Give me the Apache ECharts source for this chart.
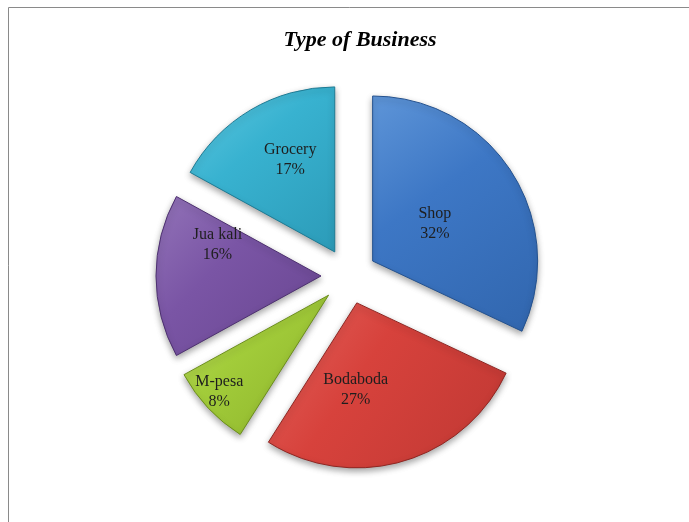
<!DOCTYPE html>
<html>
<head>
<meta charset="utf-8">
<script src="https://cdn.jsdelivr.net/npm/echarts@6/dist/echarts.min.js"></script>
<style>
  html, body { margin: 0; padding: 0; background: #fff; }
  #chart { width: 689px; height: 522px; }
</style>
</head>
<body>
<div id="chart"></div>
<script>
// Business types and their share (%)
const categories = ['Shop', 'Bodaboda', 'M-pesa', 'Jua kali', 'Grocery'];
const shares = [32, 27, 8, 16, 17];

// Slice colour ramps: [light, base, dark, edge]
const palette = [
  ['#5e95d8', '#3d77c5', '#3166ae', '#24528f'],
  ['#e2625c', '#d7423c', '#bf3833', '#8f2622'],
  ['#bcdc62', '#a2cc3a', '#8cb22a', '#6c8e1c'],
  ['#9273b8', '#7a55a5', '#684590', '#4d3070'],
  ['#5fc8e0', '#38b2d0', '#2c9bb8', '#1e7b94']
];

// Nudges for the inside labels (px)
const labelNudge = [[-10, 9], [-25, 5], [-47, 38], [-18, -31], [-1, -19]];

function fill(c) {
  return {
    type: 'linear', x: 0, y: 0, x2: 1, y2: 1,
    colorStops: [
      { offset: 0, color: c[0] },
      { offset: 0.4, color: c[1] },
      { offset: 1, color: c[2] }
    ]
  };
}

const chart = echarts.init(document.getElementById('chart'), null, { renderer: 'canvas' });

chart.setOption({
  backgroundColor: '#ffffff',
  animation: false,
  title: {
    text: 'Type of Business',
    left: 355,
    textAlign: 'center',
    top: 24,
    textStyle: {
      fontFamily: 'Liberation Serif',
      fontStyle: 'italic',
      fontWeight: 'bold',
      fontSize: 22,
      color: '#000'
    }
  },
  graphic: [{
    type: 'rect',
    shape: { x: 8.5, y: 7.5, width: 800, height: 700 },
    style: { fill: 'none', stroke: '#8a8a8a', lineWidth: 1 },
    silent: true
  }],
  series: [{
    type: 'pie',
    center: [349, 276],
    radius: [0, 165],
    startAngle: 90,
    clockwise: true,
    selectedMode: 'multiple',
    selectedOffset: 28,
    avoidLabelOverlap: false,
    emphasis: { disabled: true },
    label: {
      show: true,
      position: 'inner',
      formatter: '{b}\n{c}%',
      fontFamily: 'Liberation Serif',
      fontSize: 16,
      lineHeight: 20,
      color: '#1e1e1e'
    },
    labelLine: { show: false },
    labelLayout: function (p) {
      const n = labelNudge[p.dataIndex];
      return { dx: n[0], dy: n[1] };
    },
    data: categories.map((name, i) => ({
      name: name,
      value: shares[i],
      selected: true,
      itemStyle: {
        color: fill(palette[i]),
        borderColor: palette[i][3],
        borderWidth: 1,
        shadowBlur: 6,
        shadowOffsetY: 3,
        shadowColor: 'rgba(0,0,0,0.35)'
      },
      select: {
        itemStyle: {
          color: fill(palette[i]),
          borderColor: palette[i][3],
          borderWidth: 1
        }
      }
    }))
  }]
});
</script>
</body>
</html>
